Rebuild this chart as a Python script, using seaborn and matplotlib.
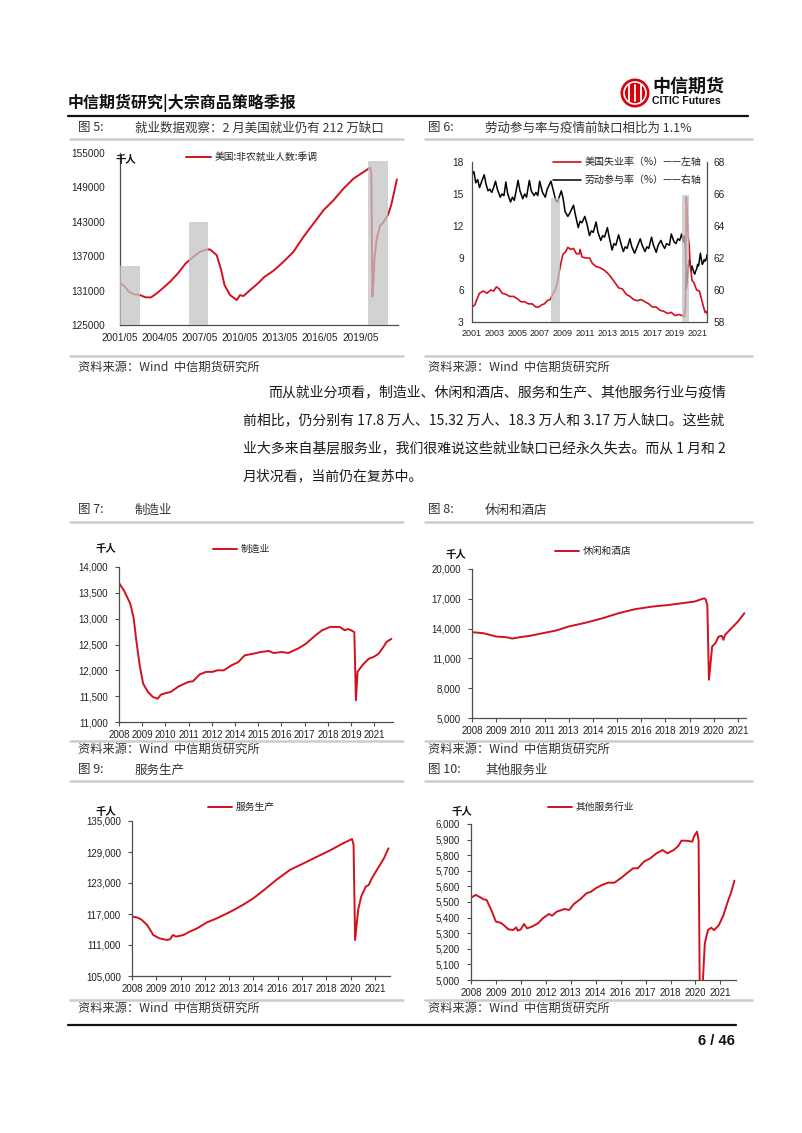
import numpy as np
import pandas as pd
import matplotlib
matplotlib.use("Agg")
import matplotlib.pyplot as plt
import seaborn as sns
from matplotlib.lines import Line2D
from matplotlib.patches import Ellipse

# ---------------------------------------------------------------- data
# Fig 5: US nonfarm payrolls (thousand), SA
nfp_dates = ['2001-05', '2001-09', '2002-01', '2002-06', '2002-11', '2003-04', '2003-09', '2004-02',
             '2004-09', '2005-02', '2005-09', '2006-04', '2006-11', '2007-05', '2007-11', '2008-02',
             '2008-08', '2008-12', '2009-03', '2009-08', '2010-02', '2010-05', '2010-08', '2011-02',
             '2011-09', '2012-03', '2012-11', '2013-08', '2014-05', '2015-02', '2015-11', '2016-08',
             '2017-05', '2018-02', '2018-11', '2019-08', '2020-02', '2020-03', '2020-04', '2020-05',
             '2020-06', '2020-08', '2020-11', '2021-01', '2021-03', '2021-06', '2021-09', '2021-12',
             '2022-02']
nfp_values = [132300, 131790, 130800, 130340, 130220, 129820, 129820, 130510,
              131670, 132540, 133990, 135730, 136900, 137770, 138170, 138170,
              137180, 134570, 131960, 130220, 129350, 130220, 130050, 131090,
              132250, 133410, 134460, 136020, 137770, 140380, 142700, 145020,
              146760, 148790, 150530, 151690, 152450, 151500, 129930, 133000,
              137000, 140200, 142400, 142700, 143300, 144200, 146000, 148600,
              150400]
nfp_shade_start = ['2001-05', '2006-07', '2019-12']
nfp_shade_end = ['2002-11', '2007-12', '2021-06']
nfp_shade_top = [135300, 142900, 153600]
nfp_xticklabels = ['2001/05', '2004/05', '2007/05', '2010/05', '2013/05', '2016/05', '2019/05']
nfp_yticks = [125000, 131000, 137000, 143000, 149000, 155000]

# Fig 6: unemployment rate (%) left axis, labour force participation (%) right axis
unemp_dates = ['2001-04', '2001-07', '2001-10', '2001-12', '2002-04', '2002-08', '2002-12', '2003-03',
               '2003-06', '2003-09', '2003-12', '2004-04', '2004-08', '2004-12', '2005-04', '2005-08',
               '2005-12', '2006-04', '2006-08', '2006-12', '2007-03', '2007-06', '2007-09', '2007-12',
               '2008-03', '2008-06', '2008-09', '2008-11', '2009-01', '2009-03', '2009-05', '2009-07',
               '2009-10', '2010-01', '2010-04', '2010-07', '2010-10', '2010-11', '2011-01', '2011-05',
               '2011-09', '2011-12', '2012-04', '2012-08', '2012-12', '2013-04', '2013-08', '2013-12',
               '2014-04', '2014-08', '2014-12', '2015-04', '2015-08', '2015-12', '2016-04', '2016-08',
               '2016-12', '2017-04', '2017-08', '2017-12', '2018-04', '2018-08', '2018-12', '2019-04',
               '2019-08', '2019-12', '2020-02', '2020-03', '2020-04', '2020-05', '2020-06', '2020-07',
               '2020-08', '2020-09', '2020-10', '2020-12', '2021-03', '2021-06', '2021-08', '2021-10',
               '2021-12', '2022-01', '2022-02']
unemp_values = [4.4, 4.6, 5.3, 5.7, 5.9, 5.7, 6.0, 5.9,
                6.3, 6.1, 5.7, 5.6, 5.4, 5.4, 5.2, 4.9,
                4.9, 4.7, 4.7, 4.4, 4.4, 4.6, 4.7, 5.0,
                5.1, 5.6, 6.1, 6.8, 7.8, 8.7, 9.4, 9.5,
                10.0, 9.8, 9.9, 9.4, 9.4, 9.8, 9.1, 9.0,
                9.0, 8.5, 8.2, 8.1, 7.9, 7.6, 7.2, 6.7,
                6.2, 6.1, 5.6, 5.4, 5.1, 5.0, 5.1, 4.9,
                4.7, 4.4, 4.4, 4.1, 4.0, 3.8, 3.9, 3.6,
                3.7, 3.6, 3.5, 4.4, 14.7, 13.2, 11.0, 10.2,
                8.4, 7.8, 6.9, 6.7, 6.0, 5.9, 5.2, 4.5,
                3.9, 4.0, 3.8]
lfpr_dates = ['2001-04', '2001-06', '2001-08', '2001-10', '2001-12',
              '2002-03', '2002-05', '2002-07', '2002-09', '2002-11',
              '2003-01', '2003-03', '2003-05', '2003-07', '2003-10', '2003-12',
              '2004-02', '2004-04', '2004-06', '2004-09', '2004-11',
              '2005-01', '2005-05', '2005-07', '2005-10', '2005-12',
              '2006-02', '2006-05', '2006-07', '2006-10', '2006-12',
              '2007-02', '2007-04', '2007-07', '2007-10', '2007-12',
              '2008-04', '2008-07', '2008-09', '2008-11',
              '2009-03', '2009-05', '2009-07', '2009-10', '2009-12',
              '2010-04', '2010-06', '2010-09', '2010-11',
              '2011-01', '2011-04', '2011-06', '2011-09', '2011-11',
              '2012-01', '2012-04', '2012-06', '2012-09', '2012-11',
              '2013-01', '2013-04', '2013-06', '2013-09', '2013-11',
              '2014-01', '2014-04', '2014-06', '2014-09', '2014-11',
              '2015-01', '2015-04', '2015-06', '2015-09', '2015-11',
              '2016-03', '2016-05', '2016-08', '2016-10', '2016-12',
              '2017-03', '2017-05', '2017-08', '2017-10',
              '2018-01', '2018-03', '2018-05', '2018-07', '2018-10', '2018-12',
              '2019-03', '2019-05', '2019-07', '2019-09', '2019-11',
              '2020-01', '2020-02', '2020-03', '2020-04', '2020-05', '2020-06',
              '2020-07', '2020-08', '2020-09', '2020-10', '2020-11', '2020-12',
              '2021-01', '2021-02', '2021-03', '2021-04', '2021-05', '2021-06',
              '2021-07', '2021-08', '2021-09', '2021-10', '2021-11', '2021-12',
              '2022-01', '2022-02']
lfpr_values = [67.2, 67.4, 66.7, 66.9, 66.4,
               66.9, 67.2, 66.6, 66.2, 66.3,
               66.1, 66.4, 66.8, 66.3, 65.8, 66.0,
               65.9, 66.75, 66.0, 65.5, 65.8,
               65.6, 66.85, 66.2, 65.7, 66.0,
               65.8, 66.85, 66.2, 65.9, 66.1,
               65.9, 66.8, 66.1, 65.8, 66.3,
               66.8, 66.1, 65.6, 65.5,
               66.2, 65.7, 64.9, 64.6, 64.8,
               65.3, 64.7, 63.9, 64.3,
               64.2, 64.6, 64.2, 63.4, 63.7,
               63.6, 64.25, 63.6, 63.1, 63.4,
               63.3, 63.9, 63.3, 62.5, 62.9,
               62.8, 63.45, 63.0, 62.4, 62.7,
               62.6, 63.2, 62.7, 62.3, 62.6,
               63.2, 62.8, 62.4, 62.7, 62.6,
               63.3, 62.8, 62.35, 62.8,
               63.1, 62.8, 62.6, 62.9, 62.8, 63.5,
               63.0, 62.9, 63.2, 63.1, 63.5,
               63.0, 63.4, 62.6, 60.1, 60.6, 61.5,
               61.9, 61.7, 61.2, 61.5, 61.3, 61.1,
               61.0, 61.2, 61.3, 61.6, 61.5, 61.9,
               62.3, 61.9, 61.6, 61.7, 61.9, 61.8,
               61.9, 62.2]
lab_shade_start = ['2008-04', '2019-11']
lab_shade_end = ['2009-02', '2020-07']
lab_shade_top = [14.6, 14.9]
lab_xticklabels = ['2001', '2003', '2005', '2007', '2009', '2011', '2013', '2015', '2017', '2019', '2021']
unemp_yticks = [3, 6, 9, 12, 15, 18]
lfpr_yticks = [58, 60, 62, 64, 66, 68]

# Fig 7: manufacturing (thousand)
mfg_dates = ['2008-01', '2008-04', '2008-08', '2008-10', '2008-12', '2009-02', '2009-04', '2009-07',
             '2009-10', '2010-01', '2010-03', '2010-06', '2010-09', '2011-02', '2011-08', '2011-11',
             '2012-03', '2012-07', '2012-11', '2013-02', '2013-06', '2013-11', '2014-03', '2014-07',
             '2014-12', '2015-05', '2015-10', '2016-01', '2016-06', '2016-10', '2017-04', '2017-09',
             '2018-03', '2018-07', '2018-12', '2019-06', '2019-09', '2019-11', '2020-01', '2020-03',
             '2020-04', '2020-05', '2020-08', '2020-12', '2021-03', '2021-06', '2021-09', '2021-11',
             '2022-02']
mfg_values = [13690, 13550, 13290, 13030, 12515, 12065, 11740, 11580,
              11485, 11450, 11530, 11560, 11580, 11690, 11775, 11790,
              11920, 11970, 11970, 12000, 12000, 12100, 12160, 12290,
              12320, 12355, 12375, 12335, 12355, 12335, 12420, 12515,
              12680, 12775, 12840, 12840, 12775, 12800, 12775, 12740,
              11420, 11970, 12100, 12225, 12260, 12320, 12450, 12550,
              12610]
mfg_xticklabels = ['2008', '2009', '2010', '2011', '2012', '2014', '2015', '2016', '2017', '2018', '2019', '2021']
mfg_yticks = [11000, 11500, 12000, 12500, 13000, 13500, 14000]

# Fig 8: leisure & hospitality (thousand)
lei_dates = ['2008-01', '2008-08', '2009-04', '2009-10', '2010-02', '2010-07', '2011-01', '2011-09',
             '2012-05', '2013-01', '2013-12', '2014-10', '2015-08', '2016-06', '2017-05', '2018-03',
             '2018-11', '2019-07', '2020-01', '2020-02', '2020-03', '2020-04', '2020-05', '2020-06',
             '2020-08', '2020-10', '2020-12', '2021-01', '2021-02', '2021-06', '2021-10', '2022-02']
lei_values = [13640, 13540, 13200, 13140, 13000, 13140, 13270, 13540,
              13800, 14210, 14610, 15045, 15550, 15950, 16220, 16380,
              16550, 16720, 17050, 16950, 16380, 8850, 10500, 12200,
              12530, 13200, 13270, 12870, 13370, 14040, 14710, 15550]
lei_xticklabels = ['2008', '2009', '2010', '2011', '2013', '2014', '2015', '2016', '2018', '2019', '2020', '2021']
lei_yticks = [5000, 8000, 11000, 14000, 17000, 20000]

# Fig 9: service-providing (thousand)
svc_dates = ['2008-01', '2008-04', '2008-07', '2008-11', '2009-03', '2009-07', '2009-12', '2010-02',
             '2010-04', '2010-06', '2010-11', '2011-03', '2011-08', '2012-02', '2012-09', '2013-06',
             '2014-02', '2014-09', '2015-04', '2015-12', '2016-09', '2017-06', '2018-03', '2018-12',
             '2019-08', '2020-02', '2020-03', '2020-04', '2020-06', '2020-08', '2020-11', '2021-01',
             '2021-03', '2021-07', '2021-11', '2022-02']
svc_values = [116490, 116360, 115970, 114875, 112940, 112300, 111970, 112100,
              112940, 112620, 112940, 113590, 114230, 115330, 116170, 117460,
              118750, 120040, 121650, 123580, 125520, 126800, 128100, 129390,
              130680, 131520, 130360, 111970, 117780, 120360, 122290, 122620,
              123900, 125840, 127780, 129710]
svc_xticklabels = ['2008', '2009', '2010', '2012', '2013', '2014', '2016', '2017', '2018', '2020', '2021']
svc_yticks = [105000, 111000, 117000, 123000, 129000, 135000]

# Fig 10: other services (thousand)
oth_dates = ['2008-01', '2008-04', '2008-07', '2008-09', '2008-11', '2009-02', '2009-05', '2009-08',
             '2009-10', '2010-01', '2010-04', '2010-06', '2010-07', '2010-09', '2010-11', '2011-01',
             '2011-04', '2011-08', '2011-11', '2012-03', '2012-05', '2012-08', '2013-01', '2013-04',
             '2013-07', '2013-11', '2014-03', '2014-06', '2014-09', '2015-01', '2015-05', '2015-09',
             '2016-01', '2016-05', '2016-09', '2016-12', '2017-04', '2017-08', '2017-12', '2018-04',
             '2018-07', '2018-11', '2019-02', '2019-04', '2019-07', '2019-11', '2019-12', '2020-02',
             '2020-03', '2020-04', '2020-05', '2020-07', '2020-09', '2020-11', '2021-01', '2021-04',
             '2021-07', '2021-09', '2021-12', '2022-02']
oth_values = [5528, 5545, 5530, 5517, 5513, 5449, 5374, 5367,
              5352, 5325, 5320, 5338, 5316, 5325, 5359, 5331,
              5342, 5363, 5395, 5423, 5412, 5438, 5455, 5449,
              5487, 5517, 5555, 5566, 5588, 5609, 5624, 5624,
              5652, 5684, 5716, 5716, 5759, 5780, 5812, 5833,
              5812, 5833, 5859, 5893, 5893, 5887, 5919, 5951,
              5897, 4600, 4850, 5235, 5320, 5335, 5320, 5352,
              5417, 5481, 5566, 5637]
oth_xticklabels = ['2008', '2009', '2010', '2012', '2013', '2014', '2016', '2017', '2018', '2020', '2021']
oth_yticks = [5000, 5100, 5200, 5300, 5400, 5500, 5600, 5700, 5800, 5900, 6000]

for a, b in [(nfp_dates, nfp_values), (unemp_dates, unemp_values), (lfpr_dates, lfpr_values),
             (mfg_dates, mfg_values), (lei_dates, lei_values), (svc_dates, svc_values),
             (oth_dates, oth_values)]:
    assert len(a) == len(b)

# ---------------------------------------------------------------- helpers
def midx(dates, start):
    y0, m0 = int(start[:4]), int(start[5:7])
    return np.array([(int(d[:4]) - y0) * 12 + int(d[5:7]) - m0 for d in dates], dtype=float)

sns.set_theme(style="white")
CJK = ['Noto Sans CJK SC', 'DejaVu Sans']
plt.rcParams['font.family'] = CJK
plt.rcParams['axes.unicode_minus'] = False

W, H = 802, 1133
fig = plt.figure(figsize=(W / 100, H / 100), dpi=100)
RED = '#d2101e'
SPINE = '#4d4d4d'
NUM = ['Liberation Sans', 'DejaVu Sans']


def rect(l, t, r, b):
    return [l / W, 1 - b / H, (r - l) / W, (b - t) / H]


def ftext(x, y, s, **kw):
    kw.setdefault('va', 'center')
    return fig.text(x / W, 1 - y / H, s, **kw)


def hline(x0, x1, y, color, lw):
    fig.add_artist(Line2D([x0 / W, x1 / W], [1 - y / H, 1 - y / H], color=color, lw=lw,
                          transform=fig.transFigure))


def base_style(ax, ytick_len=3, xtick_len=3, ypad=5, xpad=3, fs=7):
    for s in ['top', 'right']:
        ax.spines[s].set_visible(False)
    for s in ['left', 'bottom']:
        ax.spines[s].set_color(SPINE)
        ax.spines[s].set_linewidth(0.9)
    ax.tick_params(axis='y', left=True, length=ytick_len, width=0.8, color=SPINE, direction='out',
                   pad=ypad, labelsize=fs, labelcolor='#222222')
    ax.tick_params(axis='x', bottom=True, length=xtick_len, width=0.8, color=SPINE, direction='out',
                   pad=xpad, labelsize=fs, labelcolor='#222222')
    ax.set_xlabel('')
    ax.set_ylabel('')
    ax.grid(False)
    for lab in ax.get_xticklabels() + ax.get_yticklabels():
        lab.set_family(NUM)


def legend_at(ax, handles, labels, x, y, fs=7, hl=2.6, spacing=0.5):
    leg = ax.legend(handles, labels, loc='upper left', bbox_to_anchor=(x / W, 1 - y / H),
                    bbox_transform=fig.transFigure, frameon=False, fontsize=fs, handlelength=hl,
                    handletextpad=0.35, borderpad=0, borderaxespad=0, labelspacing=spacing)
    for t in leg.get_texts():
        t.set_color('#222222')
    return leg

# ---------------------------------------------------------------- page furniture
ftext(68, 103, '中信期货研究|大宗商品策略季报', fontsize=11.5, fontweight='bold', color='#111111')
fig.add_artist(Ellipse((635 / W, 1 - 93 / H), 29 / W, 29 / H, transform=fig.transFigure,
                       facecolor='#d7000f', edgecolor='none'))
fig.add_artist(Ellipse((635 / W, 1 - 93 / H), 22 / W, 22 / H, transform=fig.transFigure,
                       facecolor='none', edgecolor='white', lw=1.2))
for xx in [629, 635, 641]:
    fig.add_artist(Line2D([xx / W, xx / W], [1 - 85 / H, 1 - 101 / H], color='white', lw=1.3,
                          transform=fig.transFigure))
ftext(652, 86, '中信期货', fontsize=13, fontweight='bold', color='#111111')
ftext(652, 101, 'CITIC Futures', fontsize=7.6, fontweight='bold', color='#111111', family=NUM)
hline(68, 748, 116, '#111111', 1.6)

# captions / rules
cap_kw = dict(fontsize=9, color='#333333')
for (xn, xt, y, num, title) in [
        (78, 135, 128, '图 5:', '就业数据观察：2 月美国就业仍有 212 万缺口'),
        (428, 485, 128, '图 6:', '劳动参与率与疫情前缺口相比为 1.1%'),
        (78, 135, 510, '图 7:', '制造业'),
        (428, 485, 510, '图 8:', '休闲和酒店'),
        (78, 135, 770, '图 9:', '服务生产'),
        (428, 485, 770, '图 10:', '其他服务业')]:
    ftext(xn, y, num, **cap_kw)
    ftext(xt, y, title, **cap_kw)
for y in [139, 522, 781]:
    hline(70, 403, y, '#cccccc', 1.8)
    hline(425, 752, y, '#cccccc', 1.8)
for y in [356, 741, 1000]:
    hline(70, 403, y, '#cccccc', 1.8)
    hline(425, 752, y, '#cccccc', 1.8)
for y in [367, 749, 1008]:
    ftext(78, y, '资料来源：Wind  中信期货研究所', fontsize=8.8, color='#333333')
    ftext(428, y, '资料来源：Wind  中信期货研究所', fontsize=8.8, color='#333333')

para = ['而从就业分项看，制造业、休闲和酒店、服务和生产、其他服务行业与疫情',
        '前相比，仍分别有 17.8 万人、15.32 万人、18.3 万人和 3.17 万人缺口。这些就',
        '业大多来自基层服务业，我们很难说这些就业缺口已经永久失去。而从 1 月和 2',
        '月状况看，当前仍在复苏中。']
for i, line in enumerate(para):
    ftext(268 if i == 0 else 243, 392 + i * 28, line, fontsize=10, color='#1a1a1a')

hline(68, 736, 1025, '#111111', 1.6)
ftext(735, 1041, '6 / 46', fontsize=10.5, fontweight='bold', color='#111111', ha='right', family=NUM)

# ---------------------------------------------------------------- Fig 5
ax5 = fig.add_axes(rect(120, 153, 398, 325))
x5 = midx(nfp_dates, '2001-05')
sns.lineplot(x=x5, y=nfp_values, ax=ax5, color=RED, linewidth=1.4, zorder=2)
s0 = midx(nfp_shade_start, '2001-05')
s1 = midx(nfp_shade_end, '2001-05')
ax5.bar(s0, np.array(nfp_shade_top) - nfp_yticks[0], width=s1 - s0, bottom=nfp_yticks[0],
        align='edge', color='#c4c4c4', alpha=0.75, zorder=3, linewidth=0)
ax5.set_xlim(0, 250)
ax5.set_ylim(nfp_yticks[0], nfp_yticks[-1])
ax5.set_yticks(nfp_yticks)
ax5.set_yticklabels([str(v) for v in nfp_yticks])
ax5.set_xticks(midx([l.replace('/', '-') for l in nfp_xticklabels], '2001-05'))
ax5.set_xticklabels(nfp_xticklabels)
base_style(ax5, ytick_len=0, xtick_len=0, ypad=11, xpad=6, fs=7.2)
legend_at(ax5, ax5.lines[:1], ['美国:非农就业人数:季调'], 186, 152, fs=7, hl=2.6)
ftext(115, 160, '千人', fontsize=7.5, fontweight='bold', color='#111111')

# ---------------------------------------------------------------- Fig 6
ax6 = fig.add_axes(rect(472, 162, 707, 322))
ax6b = ax6.twinx()
x6u = midx(unemp_dates, '2001-04')
x6l = midx(lfpr_dates, '2001-04')
sns.lineplot(x=x6l, y=lfpr_values, ax=ax6b, color='#000000', linewidth=1.1)
sns.lineplot(x=x6u, y=unemp_values, ax=ax6, color=RED, linewidth=1.2, zorder=2)
b0 = midx(lab_shade_start, '2001-04')
b1 = midx(lab_shade_end, '2001-04')
ax6.bar(b0, np.array(lab_shade_top) - unemp_yticks[0], width=b1 - b0, bottom=unemp_yticks[0],
        align='edge', color='#c4c4c4', alpha=0.75, zorder=3, linewidth=0)
ax6.set_zorder(ax6b.get_zorder() + 1)
ax6.patch.set_visible(False)
ax6.set_xlim(0, 250)
ax6.set_ylim(3, 18)
ax6.set_yticks(unemp_yticks)
ax6.set_yticklabels([str(v) for v in unemp_yticks])
ax6.set_xticks(midx([l + '-04' for l in lab_xticklabels], '2001-04'))
ax6.set_xticklabels(lab_xticklabels)
ax6b.set_ylim(58, 68)
ax6b.set_yticks(lfpr_yticks)
ax6b.set_yticklabels([str(v) for v in lfpr_yticks])
base_style(ax6, ytick_len=0, xtick_len=0, ypad=6, xpad=5, fs=7.3)
ax6.tick_params(axis='x', labelsize=6.5)
for s in ['top', 'left', 'bottom']:
    ax6b.spines[s].set_visible(False)
ax6b.spines['right'].set_visible(True)
ax6b.spines['right'].set_color(SPINE)
ax6b.spines['right'].set_linewidth(0.9)
ax6b.tick_params(axis='y', right=True, length=0, pad=5, labelsize=7.3, labelcolor='#222222')
for lab in ax6b.get_yticklabels():
    lab.set_family(NUM)
ax6b.set_ylabel('')
ax6b.grid(False)
legend_at(ax6, [ax6.lines[0], ax6b.lines[0]], ['美国失业率（%）——左轴', '劳动参与率（%）——右轴'],
          553, 157, fs=7.2, hl=2.8, spacing=0.8)

# ---------------------------------------------------------------- Fig 7-10 (monthly category axes)
def small_chart(box, dates, values, yticks, xlabels, step, name, leg_xy, unit_xy):
    ax = fig.add_axes(rect(*box))
    xs = midx(dates, '2008-01')
    sns.lineplot(x=xs, y=values, ax=ax, color=RED, linewidth=1.4)
    ax.set_xlim(0, 170)
    ax.set_ylim(yticks[0], yticks[-1])
    ax.set_yticks(yticks)
    ax.set_yticklabels([f'{v:,}' for v in yticks])
    ax.set_xticks(np.arange(len(xlabels)) * step)
    ax.set_xticklabels(xlabels)
    base_style(ax, ytick_len=3, xtick_len=3, ypad=5, xpad=2.5, fs=7)
    legend_at(ax, ax.lines[:1], [name], leg_xy[0], leg_xy[1], fs=7, hl=2.5)
    ftext(unit_xy[0], unit_xy[1], '千人', fontsize=7.5, fontweight='bold', color='#111111')
    return ax

small_chart((119, 567, 393, 722), mfg_dates, mfg_values, mfg_yticks, mfg_xticklabels, 14.4,
            '制造业', (213, 544), (96, 549))
small_chart((472, 569, 746, 718), lei_dates, lei_values, lei_yticks, lei_xticklabels, 15,
            '休闲和酒店', (555, 546), (445, 555))
small_chart((132, 821, 390, 976), svc_dates, svc_values, svc_yticks, svc_xticklabels, 16,
            '服务生产', (208, 802), (96, 812))
small_chart((471, 824, 736, 980), oth_dates, oth_values, oth_yticks, oth_xticklabels, 16,
            '其他服务行业', (548, 802), (452, 812))

fig.savefig('out.png', dpi=100)
